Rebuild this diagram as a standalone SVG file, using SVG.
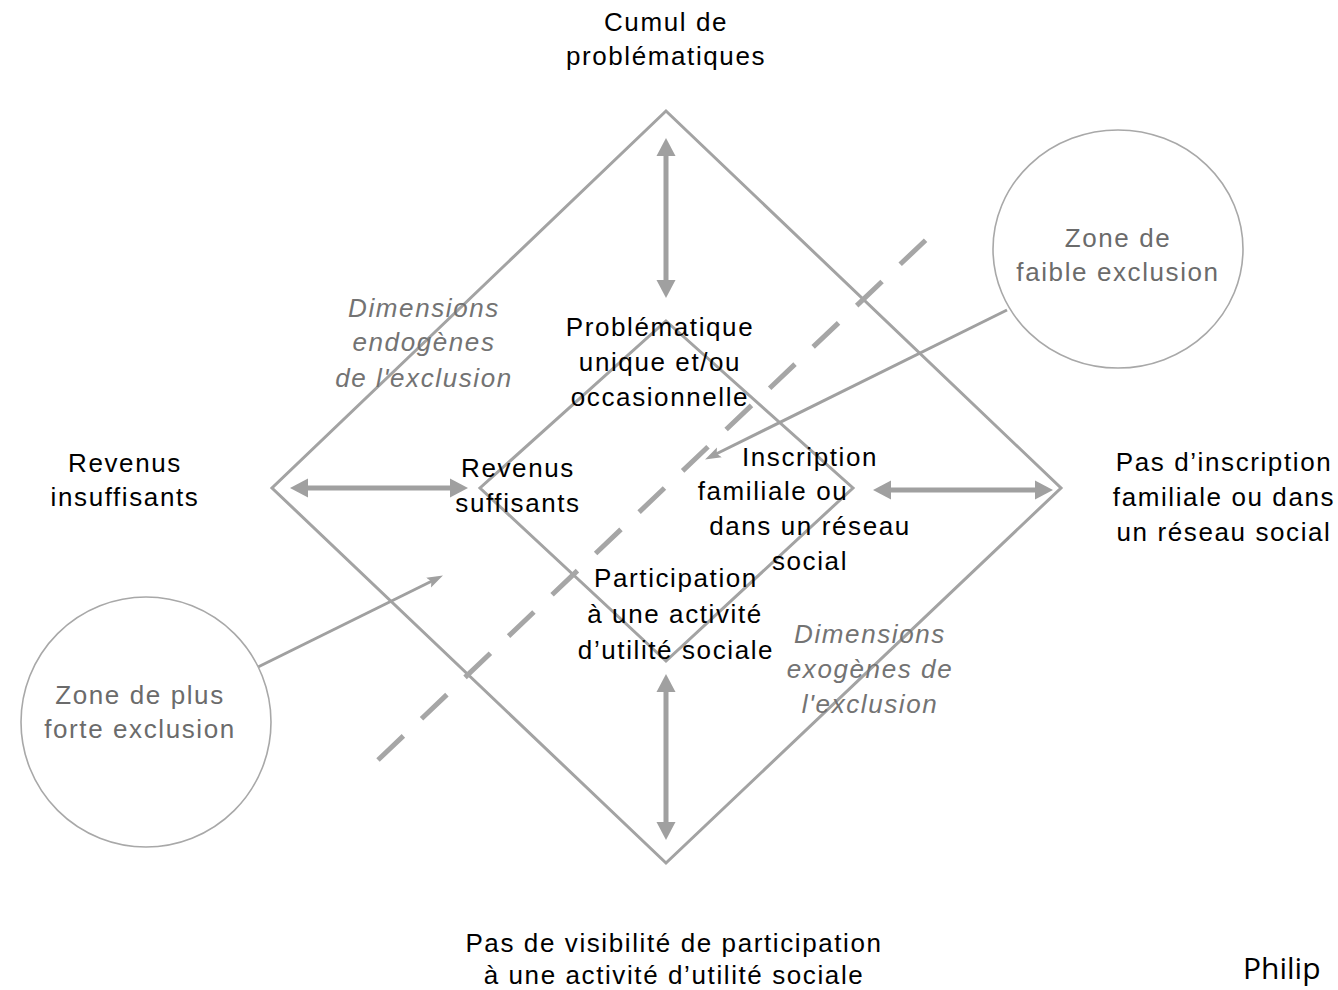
<svg xmlns="http://www.w3.org/2000/svg" width="1338" height="990" viewBox="0 0 1338 990">
<style>
text{font-family:"Liberation Sans",Arial,sans-serif;font-size:26px;letter-spacing:1.6px;text-anchor:middle;fill:#000}
.it{font-style:italic;fill:#737373}
.zone{fill:#6b6b6b}
.frame{fill:none;stroke:#a3a3a3;stroke-width:3;stroke-linejoin:miter}
.circ{fill:#fff;stroke:#a8a8a8;stroke-width:1.6}
.big{stroke:#a0a0a0;stroke-width:5;fill:none;marker-start:url(#ah);marker-end:url(#ah)}
.thin{stroke:#a0a0a0;stroke-width:3;fill:none;marker-end:url(#th)}
.dash{stroke:#a6a6a6;stroke-width:5;fill:none;stroke-dasharray:35 25}
</style>
<defs>
<marker id="ah" markerUnits="userSpaceOnUse" markerWidth="18" markerHeight="20" viewBox="0 0 18 20" refX="8" refY="10" orient="auto-start-reverse">
<path d="M0,0.5 L18,10 L0,19.5 z" fill="#a0a0a0"/>
</marker>
<marker id="th" markerUnits="userSpaceOnUse" markerWidth="16" markerHeight="12" viewBox="0 0 16 12" refX="6" refY="6" orient="auto">
<path d="M0,0.5 L16,6 L0,11.5 L3,6 z" fill="#a0a0a0"/>
</marker>
</defs>
<rect width="1338" height="990" fill="#fff"/>

<g id="outer-diamond"><polygon class="frame" points="666,111 1061,488 666,863 272,488"/></g>
<g id="inner-diamond"><polygon class="frame" points="666,321 853,488 666,661 480,488"/></g>

<g id="connectors">
<line class="dash" x1="378" y1="760" x2="930" y2="236"/>
<line class="big" x1="666" y1="148" x2="666" y2="288"/>
<line class="big" x1="666" y1="684" x2="666" y2="830"/>
<line class="big" x1="300" y1="488" x2="458" y2="488"/>
<line class="big" x1="883" y1="490" x2="1043" y2="490"/>
<line class="thin" x1="1007" y1="310" x2="714" y2="455"/>
<line class="thin" x1="258" y1="667" x2="434" y2="580"/>
</g>

<g id="zone-faible">
<ellipse class="circ" cx="1118" cy="249" rx="125" ry="119"/>
<text class="zone" x="1118" y="247">Zone de</text>
<text class="zone" x="1118" y="281">faible exclusion</text>
</g>
<g id="zone-forte">
<circle class="circ" cx="146" cy="722" r="125"/>
<text class="zone" x="140" y="704">Zone de plus</text>
<text class="zone" x="140" y="738">forte exclusion</text>
</g>

<g id="label-cumul">
<text x="666" y="31">Cumul de</text>
<text x="666" y="65">problématiques</text>
</g>
<g id="label-revenus-insuffisants">
<text x="125" y="472">Revenus</text>
<text x="125" y="506">insuffisants</text>
</g>
<g id="label-pas-inscription">
<text x="1224" y="471">Pas d’inscription</text>
<text x="1224" y="506">familiale ou dans</text>
<text x="1224" y="541">un réseau social</text>
</g>
<g id="label-pas-visibilite">
<text x="674" y="952">Pas de visibilité de participation</text>
<text x="674" y="984">à une activité d’utilité sociale</text>
</g>
<g id="label-endogenes">
<text class="it" x="424" y="317">Dimensions</text>
<text class="it" x="424" y="351">endogènes</text>
<text class="it" x="424" y="387">de l'exclusion</text>
</g>
<g id="label-exogenes">
<text class="it" x="870" y="643">Dimensions</text>
<text class="it" x="870" y="678">exogènes de</text>
<text class="it" x="870" y="713">l'exclusion</text>
</g>
<g id="label-problematique">
<text x="660" y="336">Problématique</text>
<text x="660" y="371">unique et/ou</text>
<text x="660" y="406">occasionnelle</text>
</g>
<g id="label-revenus-suffisants">
<text x="518" y="477">Revenus</text>
<text x="518" y="512">suffisants</text>
</g>
<g id="label-inscription">
<text x="810" y="466">Inscription</text>
<text x="773" y="500">familiale ou</text>
<text x="810" y="535">dans un réseau</text>
<text x="810" y="570">social</text>
</g>
<g id="label-participation">
<text x="676" y="587">Participation</text>
<text x="675" y="623">à une activité</text>
<text x="676" y="659">d’utilité sociale</text>
</g>
<g id="credit">
<text x="1243" y="979" style="font-family:'Open Sans','Liberation Sans',sans-serif;font-size:30px;letter-spacing:0;text-anchor:start">Philip</text>
</g>
</svg>
